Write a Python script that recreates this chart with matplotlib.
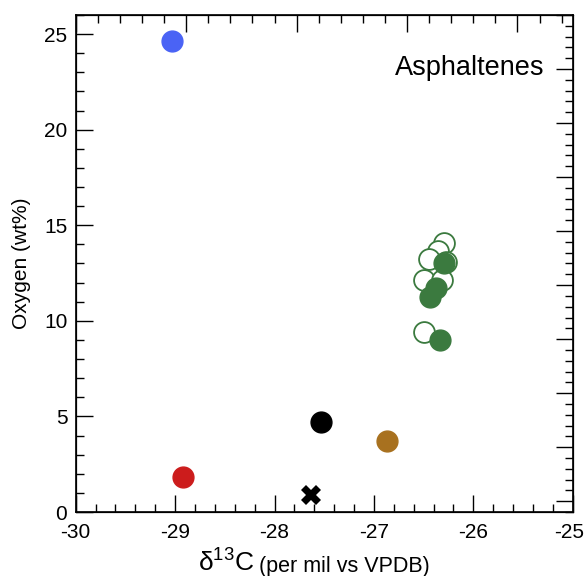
import matplotlib
matplotlib.use("Agg")
import matplotlib.pyplot as plt
import matplotlib.transforms as mtransforms
from matplotlib.ticker import MultipleLocator, NullFormatter

plt.rcParams["font.family"] = ["Liberation Sans", "DejaVu Sans"]
plt.rcParams["axes.unicode_minus"] = False

# single samples
blue_x, blue_y = [-29.03], [24.65]
red_x, red_y = [-28.92], [1.81]
black_x, black_y = [-27.53], [4.72]
brown_x, brown_y = [-26.87], [3.73]
cross_x, cross_y = [-27.63], [0.89]

# green group: open and filled
open_x = [-26.29, -26.36, -26.27, -26.45, -26.50, -26.31, -26.50]
open_y = [14.08, 13.67, 13.09, 13.21, 12.13, 12.13, 9.43]
fill_x = [-26.29, -26.38, -26.44, -26.34]
fill_y = [13.04, 11.70, 11.23, 9.00]

green = "#3b7a3f"

fig = plt.figure(figsize=(5.85, 5.76), dpi=100)
ax = fig.add_axes([0.1294, 0.1111, 0.8496, 0.8629])

ms = 15
ax.plot(open_x, open_y, "o", ms=ms, mfc="white", mec=green, mew=1.3, zorder=3)
ax.plot(fill_x, fill_y, "o", ms=ms, color=green, zorder=4)
ax.plot(blue_x, blue_y, "o", ms=ms, color="#4a63f5", zorder=4)
ax.plot(red_x, red_y, "o", ms=ms, color="#cc1c1c", zorder=4)
ax.plot(black_x, black_y, "o", ms=ms, color="black", zorder=4)
ax.plot(brown_x, brown_y, "o", ms=ms, color="#a8711f", zorder=4)
ax.plot(cross_x, cross_y, "X", ms=15, color="black", mew=0, zorder=4)

ax.set_xlim(-30, -25)
ax.set_ylim(0, 26)
ax.xaxis.set_major_locator(MultipleLocator(1))
ax.xaxis.set_minor_locator(MultipleLocator(0.2))
ax.yaxis.set_major_locator(MultipleLocator(5))
ax.yaxis.set_minor_locator(MultipleLocator(1))
ax.tick_params(which="both", direction="in", labelsize=15, width=1, colors="black")
ax.tick_params(which="major", length=12)
ax.tick_params(which="minor", length=6)
ax.tick_params(axis="x", which="major", pad=8)
ax.tick_params(axis="y", which="major", pad=6)
for s in ax.spines.values():
    s.set_linewidth(1.2)

# top and right axes have their own tick spacing in the original
top = ax.twiny()
top.set_xlim(0, 4.5)
top.xaxis.set_major_locator(MultipleLocator(1))
top.xaxis.set_minor_locator(MultipleLocator(0.2))
top.xaxis.set_major_formatter(NullFormatter())
top.tick_params(which="both", direction="in", width=1)
top.tick_params(which="major", length=12)
top.tick_params(which="minor", length=6)

right = ax.twinx()
right.set_ylim(9.2, 0)
right.yaxis.set_major_locator(MultipleLocator(1))
right.yaxis.set_minor_locator(MultipleLocator(0.2))
right.yaxis.set_major_formatter(NullFormatter())
right.tick_params(which="both", direction="in", width=1)
right.tick_params(which="major", length=12)
right.tick_params(which="minor", length=6)
right.set_xlim(-30, -25)

ax.set_ylabel("Oxygen (wt%)", fontsize=15, labelpad=9)

# x label in two sizes, second part placed right after the first
base_y = 0.007
t1 = fig.text(198 / 585, base_y, r"$\mathregular{\delta^{13}}$C", fontsize=19,
              ha="left", va="baseline")
fig.canvas.draw()
bb = t1.get_window_extent()
fig.text((bb.x1 + 5) / 585, base_y, "(per mil vs VPDB)", fontsize=15.5,
         ha="left", va="baseline")

# keep the -25 tick label inside the figure
shift = mtransforms.ScaledTranslation(-4 / 100, 0, fig.dpi_scale_trans)
for tick in ax.xaxis.get_major_ticks():
    if abs(tick.get_loc() - (-25)) < 1e-6:
        tick.label1.set_transform(tick.label1.get_transform() + shift)

ax.text(0.944, 0.894, "Asphaltenes", transform=ax.transAxes, fontsize=19.5,
        ha="right", va="center")

fig.savefig("out.png", dpi=100)
